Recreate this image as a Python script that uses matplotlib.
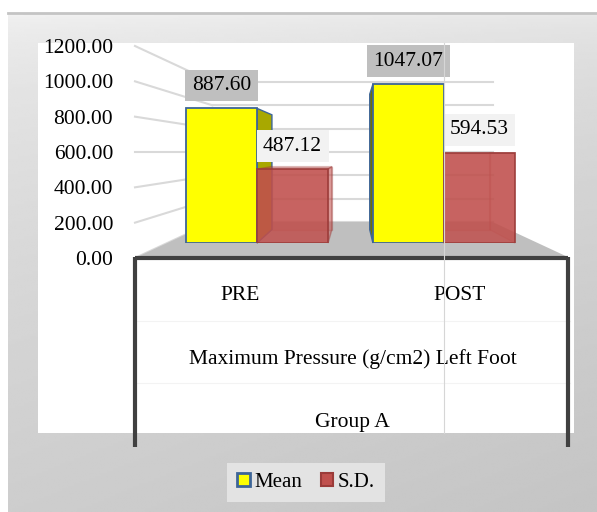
import matplotlib
matplotlib.use("Agg")
import matplotlib.pyplot as plt
import numpy as np
from matplotlib.patches import Patch, Polygon, Rectangle

categories = ["PRE", "POST"]
series_names = ["Mean", "S.D."]
mean_values = [887.60, 1047.07]
sd_values = [487.12, 594.53]
y_ticks = [0, 200, 400, 600, 800, 1000, 1200]
axis_title = "Maximum Pressure (g/cm2) Left Foot"
group_label = "Group A"

W, H = 597, 512
FS = 15.5
plt.rcParams["font.family"] = ["Liberation Serif", "DejaVu Serif"]

MEAN_COLOR, MEAN_EDGE = "#ffff00", "#3d6597"
SD_COLOR, SD_EDGE = "#c0504d", "#9b3b39"

# 3-D floor perspective (pixel space): t = depth, 0 front edge, 1 back wall
CX = 352.5
U_LEFT, U_RIGHT = 135, 570
U0, DU = 240.4, 219.5      # category centres along the front edge
T_FRONT, T_BACK = 0.417, 0.79
VMAX = 1200
BW = 0.38
XLO, XHI = (U_LEFT - U0) / DU, (U_RIGHT - U0) / DU


def proj_x(x, t):
    u = U0 + x * DU
    return CX + (u - CX) * (1 - 0.356 * t)


def proj_y(v, t):
    return 258 - 36 * t - v * (212 - 72 * t) / VMAX


def P(x, v, t):
    return (proj_x(x, t), proj_y(v, t))


def plane_rect(t):
    x0, x1 = proj_x(XLO, t), proj_x(XHI, t)
    ytop, ybot = proj_y(VMAX, t), proj_y(0, t)
    return [x0 / W, 1 - ybot / H, (x1 - x0) / W, (ybot - ytop) / H]


fig = plt.figure(figsize=(W / 100, H / 100), dpi=100)

# ---- chart area in pixel coordinates
scene = fig.add_axes([0, 0, 1, 1])
scene.axis("off")
gy, gx = np.mgrid[0:1:200j, 0:1:200j]
grad = 0.95 - 0.145 * np.sqrt(gy) - 0.035 * gx
scene.imshow(grad, cmap="gray", vmin=0, vmax=1, extent=(8, W, H, 13),
             aspect="auto", interpolation="bilinear", zorder=0)
scene.plot([8, W], [13, 13], color="#c4c4c4", lw=2, zorder=1)
scene.add_patch(Rectangle((38, 43), 536, 390, fc="white", ec="none", zorder=1))
scene.set_xlim(0, W)
scene.set_ylim(H, 0)

# back wall gridlines and the leader lines from the value axis
for v in y_ticks:
    scene.plot([proj_x(XLO, 1), proj_x(XHI, 1)], [proj_y(v, 1)] * 2,
               color="#d9d9d9", lw=1.5, zorder=2)
    scene.plot([proj_x(XLO, 0), proj_x(XLO, 1)], [proj_y(v, 0), proj_y(v, 1)],
               color="#d9d9d9", lw=1.5, zorder=2)

# floor
floor = [P(XLO, 0, 0), P(XHI, 0, 0), P(XHI, 0, 1), P(XLO, 0, 1)]
scene.add_patch(Polygon(floor, closed=True, fc="#bfbfbf", ec="none", zorder=3))

# category table below the floor
for yy in (321, 383):
    scene.plot([U_LEFT, U_RIGHT], [yy, yy], color="#f3f3f3", lw=0.8, zorder=3)
scene.plot([U_LEFT, U_RIGHT - 2], [258, 258], color="#404040", lw=3, zorder=4,
           solid_capstyle="butt")
for xx in (U_LEFT, U_RIGHT - 2):
    scene.plot([xx, xx], [257, 447], color="#404040", lw=3, zorder=4,
               solid_capstyle="butt")
scene.text(CX, 359, axis_title, ha="center", va="center", fontsize=FS, zorder=5)
scene.text(CX, 422, group_label, ha="center", va="center", fontsize=FS, zorder=5)


# depth faces of the bars
def draw_depth(xc, v, fc, ec, side_fc=None, alpha=1.0, show_back=False):
    l, r = xc - BW / 2, xc + BW / 2
    if show_back:
        back = [P(l, v, T_BACK), P(r, v, T_BACK), P(r, 0, T_BACK), P(l, 0, T_BACK)]
        scene.add_patch(Polygon(back, closed=True, fc=fc, ec=ec, alpha=alpha,
                                lw=1, zorder=5))
    faces = []
    if proj_x(r, T_BACK) > proj_x(r, T_FRONT):
        faces.append(("right", [P(r, v, T_FRONT), P(r, v, T_BACK),
                                P(r, 0, T_BACK), P(r, 0, T_FRONT)]))
    if proj_x(l, T_BACK) < proj_x(l, T_FRONT):
        faces.append(("left", [P(l, v, T_FRONT), P(l, v, T_BACK),
                               P(l, 0, T_BACK), P(l, 0, T_FRONT)]))
    if show_back:
        faces.append(("in", [P(r, v, T_FRONT), P(r, v, T_BACK),
                             P(r, 0, T_BACK), P(r, 0, T_FRONT)]))
        faces.append(("in", [P(l, v, T_FRONT), P(l, v, T_BACK),
                             P(l, 0, T_BACK), P(l, 0, T_FRONT)]))
    if proj_y(v, T_BACK) < proj_y(v, T_FRONT):
        faces.append(("top", [P(l, v, T_FRONT), P(r, v, T_FRONT),
                              P(r, v, T_BACK), P(l, v, T_BACK)]))
    for name, pts in faces:
        c = fc
        if side_fc is not None:
            c = side_fc.get(name, fc)
        scene.add_patch(Polygon(pts, closed=True, fc=c, ec=ec, alpha=alpha,
                                lw=1, zorder=6))


xs = np.arange(len(categories))
for i in xs:
    draw_depth(i - BW / 2, mean_values[i], MEAN_COLOR, MEAN_EDGE,
               side_fc={"right": "#a8a800", "left": "#6f6f08", "top": "#e0e000"})
    draw_depth(i + BW / 2, sd_values[i], SD_COLOR, SD_EDGE, alpha=0.25,
               show_back=True)

# ---- value axis (front edge of the floor)
ax_wall = fig.add_axes(plane_rect(0))
ax_wall.set_facecolor("none")
for s in ax_wall.spines.values():
    s.set_visible(False)
ax_wall.set_xlim(XLO, XHI)
ax_wall.set_ylim(0, VMAX)
ax_wall.set_yticks(y_ticks)
ax_wall.set_yticklabels([f"{v:.2f}" for v in y_ticks])
ax_wall.set_xticks(xs)
ax_wall.set_xticklabels(categories)
ax_wall.tick_params(axis="y", length=0, pad=15.8, labelsize=FS)
ax_wall.tick_params(axis="x", length=0, pad=20, labelsize=FS)

# ---- bars (front plane)
ax_bar = fig.add_axes(plane_rect(T_FRONT))
ax_bar.set_facecolor("none")
ax_bar.axis("off")
ax_bar.set_xlim(XLO, XHI)
ax_bar.set_ylim(0, VMAX)
ax_bar.bar(xs - BW / 2, mean_values, BW, color=MEAN_COLOR, edgecolor=MEAN_EDGE,
           lw=1.3, zorder=3)
ax_bar.bar(xs + BW / 2, sd_values, BW, color=SD_COLOR, alpha=0.85,
           edgecolor=SD_EDGE, lw=1.3, zorder=3)

ax_bar.plot([444, 444], [43, 433], color="#d6d6d6", lw=0.8, zorder=7,
            transform=scene.transData, clip_on=False)

for i in xs:
    ax_bar.annotate(f"{mean_values[i]:.2f}", (i - BW / 2, mean_values[i]),
                    xytext=(0, 16.5), textcoords="offset points",
                    ha="center", va="center", fontsize=FS, zorder=6,
                    annotation_clip=False,
                    bbox=dict(boxstyle="square,pad=0.3", fc="#bfbfbf", ec="none"))
    ax_bar.annotate(f"{sd_values[i]:.2f}", (i + BW / 2, sd_values[i]),
                    xytext=(0, 16.5), textcoords="offset points",
                    ha="center", va="center", fontsize=FS, zorder=6,
                    annotation_clip=False,
                    bbox=dict(boxstyle="square,pad=0.3", fc="#f2f2f2", ec="none"))

handles = [Patch(fc=MEAN_COLOR, ec=MEAN_EDGE, lw=2),
           Patch(fc=SD_COLOR, ec=SD_EDGE, lw=1.5)]
fig.legend(handles, series_names, loc="center",
           bbox_to_anchor=(306 / W, 1 - 482.5 / H), ncol=2, frameon=True,
           fancybox=False, facecolor="#e3e3e3", edgecolor="none", framealpha=1,
           fontsize=15, handlelength=0.6, handleheight=0.6, handletextpad=0.2,
           columnspacing=0.9, borderpad=0.5)

fig.savefig("out.png", dpi=100)
